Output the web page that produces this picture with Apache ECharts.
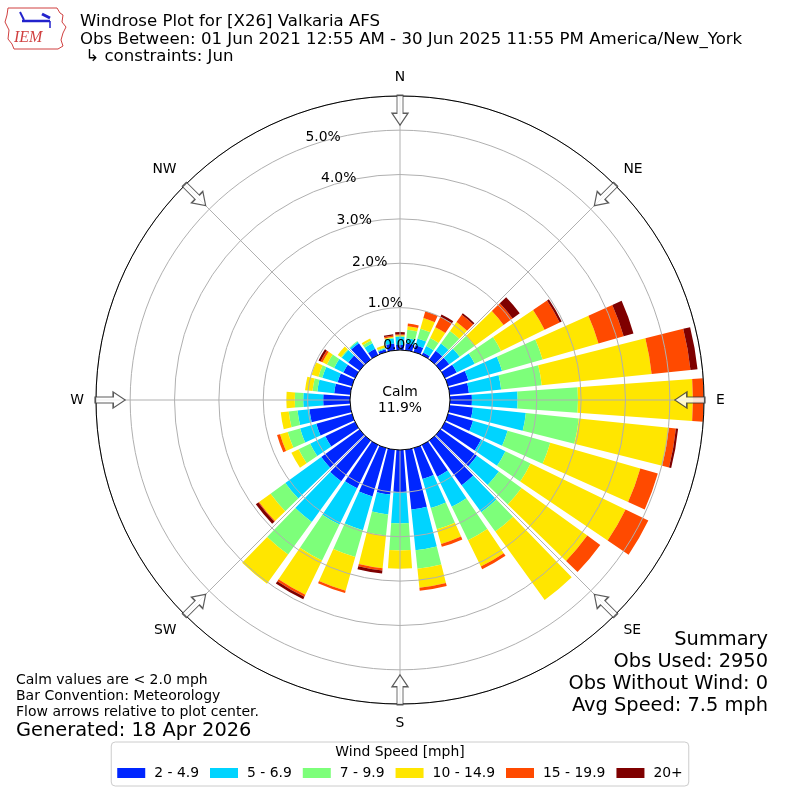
<!DOCTYPE html>
<html>
<head>
<meta charset="utf-8">
<script src="https://cdn.jsdelivr.net/npm/echarts@6/dist/echarts.min.js"></script>
<style>
html,body{margin:0;padding:0;background:#fff;}
#c{width:800px;height:800px;}
</style>
</head>
<body>
<div id="c"></div>
<script>
// ---- data ----
const directions = [0,10,20,30,40,50,60,70,80,90,100,110,120,130,140,150,160,170,180,190,200,210,220,230,240,250,260,270,280,290,300,310,320,330,340,350];
const speedBins = ['2 - 4.9','5 - 6.9','7 - 9.9','10 - 14.9','15 - 19.9','20+'];
const binColors = ['#0026ff','#00d4ff','#7dff7a','#ffe600','#ff4a00','#7f0000'];
// percent of observations per direction bin
const bin2to5   = [0.16,0.20,0.20,0.11,0.29,0.29,0.34,0.52,0.48,0.54,0.57,0.63,0.95,1.06,1.29,0.84,0.77,1.40,0.99,1.06,1.18,1.13,1.18,1.11,0.79,0.88,0.97,0.65,0.41,0.38,0.34,0.36,0.50,0.20,0.11,0.20];
const bin5to7   = [0.18,0.12,0.16,0.16,0.20,0.29,0.45,0.79,0.73,1.03,1.20,0.81,0.61,0.61,0.75,0.75,0.68,0.92,0.71,0.45,0.79,0.91,1.13,1.00,0.38,0.38,0.27,0.45,0.38,0.36,0.23,0.18,0.04,0.14,0.02,0.11];
const bin7to10  = [0.02,0.19,0.23,0.20,0.35,0.41,0.66,0.95,0.92,1.36,1.20,1.00,0.63,0.63,0.54,0.84,0.50,0.42,0.61,0.48,0.63,0.90,0.91,0.41,0.29,0.29,0.20,0.19,0.11,0.09,0.18,0.02,0.02,0.07,0.02,0.02];
const bin10to15 = [0.02,0.08,0.25,0.27,0.25,0.81,1.09,1.31,2.49,2.59,2.04,2.11,2.38,1.83,1.90,0.66,0.34,0.43,0.41,0.74,0.79,0.86,0.81,0.32,0.18,0.18,0.18,0.19,0.17,0.16,0.11,0.09,0.00,0.05,0.05,0.02];
const bin15to20 = [0.02,0.06,0.16,0.26,0.20,0.25,0.38,0.59,0.88,0.26,0.16,0.41,0.57,0.36,0.00,0.07,0.07,0.07,0.00,0.05,0.05,0.05,0.00,0.02,0.00,0.07,0.00,0.00,0.00,0.00,0.05,0.00,0.00,0.00,0.00,0.03];
const bin20plus = [0.05,0.00,0.00,0.06,0.04,0.20,0.05,0.23,0.16,0.00,0.05,0.00,0.00,0.00,0.00,0.00,0.00,0.00,0.00,0.07,0.00,0.06,0.00,0.07,0.00,0.00,0.00,0.00,0.00,0.00,0.05,0.00,0.00,0.00,0.00,0.03];
const binSeries = [bin2to5, bin5to7, bin7to10, bin10to15, bin15to20, bin20plus];
const calmPct = 11.9;
const compassNames  = ['N','NE','E','SE','S','SW','W','NW'];
const compassAngles = [0,45,90,135,180,225,270,315];
const radialMax = 5.77;

const titleLines = [
  'Windrose Plot for [X26] Valkaria AFS',
  'Obs Between: 01 Jun 2021 12:55 AM - 30 Jun 2025 11:55 PM America/New_York',
  ' \u21b3 constraints: Jun'
];
const noteLines = ['Calm values are < 2.0 mph','Bar Convention: Meteorology','Flow arrows relative to plot center.'];
const generatedText = 'Generated: 18 Apr 2026';
const summaryLines = ['Summary','Obs Used: 2950','Obs Without Wind: 0','Avg Speed: 7.5 mph'];

// ---- chart ----
const FONT = '"DejaVu Sans", sans-serif';
const chart = echarts.init(document.getElementById('c'));
const polarRadius = [48, 304];
const arrowRadius = 5.45;

const barSeries = speedBins.map((name, i) => ({
  name: name,
  type: 'bar',
  coordinateSystem: 'polar',
  polarIndex: 0,
  stack: 'wind',
  data: binSeries[i],
  barCategoryGap: '18%',
  itemStyle: { color: binColors[i] },
  silent: true,
  z: 2
}));

const option = {
  animation: false,
  backgroundColor: '#fff',
  textStyle: { fontFamily: FONT },
  tooltip: { show: false },
  title: [
    { text: titleLines.join('\n'), left: 80, top: 13, padding: 0,
      textStyle: { fontFamily: FONT, fontSize: 16.6, lineHeight: 17.5, fontWeight: 'normal', color: '#000' } },
    { text: 'Wind Speed [mph]', left: 'center', top: 745, padding: 0,
      textStyle: { fontFamily: FONT, fontSize: 13.9, fontWeight: 'normal', color: '#000' } },
    { text: noteLines.join('\n'), left: 16, top: 672, padding: 0,
      textStyle: { fontFamily: FONT, fontSize: 14, lineHeight: 16, fontWeight: 'normal', color: '#000' } },
    { text: generatedText, left: 16, top: 721, padding: 0,
      textStyle: { fontFamily: FONT, fontSize: 19.4, fontWeight: 'normal', color: '#000' } }
  ],
  legend: {
    data: speedBins,
    top: 742, left: 'center',
    orient: 'horizontal',
    icon: 'rect',
    itemWidth: 28, itemHeight: 10, itemGap: 11,
    padding: [24, 6, 6, 6],
    borderColor: '#cccccc', borderWidth: 1, borderRadius: 4,
    backgroundColor: '#fff',
    selectedMode: false,
    textStyle: { fontFamily: FONT, fontSize: 13.9, color: '#000', padding: [0, 0, 0, 4] }
  },
  polar: [
    { center: ['50%', '50%'], radius: polarRadius },
    { center: ['50%', '50%'], radius: polarRadius },
    { center: ['50%', '50%'], radius: polarRadius }
  ],
  angleAxis: [
    { polarIndex: 0, type: 'category', data: directions.map(String), startAngle: 95, clockwise: true,
      boundaryGap: true, axisLine: { show: false }, axisTick: { show: false }, axisLabel: { show: false },
      splitLine: { show: false } },
    { polarIndex: 1, type: 'value', min: 0, max: 360, interval: 45, startAngle: 90, clockwise: true, z: 10,
      axisLine: { show: true, lineStyle: { color: '#000', width: 1 } },
      axisTick: { show: false },
      axisLabel: { show: true, margin: 12, fontFamily: FONT, fontSize: 13.9, color: '#000',
        formatter: v => { const k = compassAngles.indexOf(v); return k >= 0 ? compassNames[k] : ''; } },
      splitLine: { show: true, lineStyle: { color: '#b0b0b0', width: 1 } } },
    { polarIndex: 2, type: 'value', min: 0, max: 360, startAngle: 110.5, clockwise: true, show: false }
  ],
  radiusAxis: [
    { polarIndex: 0, type: 'value', min: 0, max: radialMax, show: false },
    { polarIndex: 1, type: 'value', min: 0, max: radialMax, interval: 1, z: 10,
      axisLine: { show: false }, axisTick: { show: false }, axisLabel: { show: false },
      splitLine: { show: true, lineStyle: { color: '#b0b0b0', width: 1 } } },
    { polarIndex: 2, type: 'value', min: 0, max: radialMax, interval: 1, z: 12,
      axisLine: { show: false }, axisTick: { show: false }, splitLine: { show: false },
      axisLabel: { show: true, showMaxLabel: false, margin: 0, align: 'left', verticalAlign: 'bottom',
        padding: [0, 0, 3, 0], fontFamily: FONT, fontSize: 13.9, color: '#000',
        formatter: v => (Math.abs(v - Math.round(v)) < 1e-6 ? v.toFixed(1) + '%' : '') } }
  ],
  series: barSeries.concat([
    { type: 'pie', center: ['50%', '50%'], radius: [0, 50], z: 11, silent: true,
      label: { show: true, position: 'center', formatter: 'Calm\n' + calmPct.toFixed(1) + '%',
        fontFamily: FONT, fontSize: 13.9, lineHeight: 16, color: '#000' },
      labelLine: { show: false },
      emphasis: { disabled: true },
      itemStyle: { color: '#fff', borderColor: '#000', borderWidth: 1 },
      data: [{ value: 1, name: 'Calm' }] },
    { type: 'scatter', coordinateSystem: 'polar', polarIndex: 1, z: 13, silent: true,
      symbol: 'path://M8,0 L16,12 L11,12 L11,30 L5,30 L5,12 L0,12 Z',
      symbolSize: [16, 30],
      itemStyle: { color: '#fff', borderColor: '#333', borderWidth: 1.2 },
      data: compassAngles.map(a => ({ value: [arrowRadius, a], symbolRotate: 180 - a })) }
  ]),
  graphic: [
    { type: 'polygon', z: 20,
      shape: { points: [[8,8],[57,8],[60,13],[63,15],[62,22],[66,27],[63,33],[61,40],[63,46],[58,49],[14,49],[12,44],[8,39],[9,30],[5,22],[7,15]] },
      style: { fill: 'none', stroke: '#d04040', lineWidth: 1 } },
    { type: 'line', z: 20, shape: { x1: 22, y1: 21, x2: 50, y2: 21 }, style: { stroke: '#2222cc', lineWidth: 2.5 } },
    { type: 'line', z: 20, shape: { x1: 20, y1: 12, x2: 24, y2: 20 }, style: { stroke: '#2222cc', lineWidth: 2 } },
    { type: 'line', z: 20, shape: { x1: 42, y1: 14, x2: 50, y2: 18 }, style: { stroke: '#2222cc', lineWidth: 3 } },
    { type: 'line', z: 20, shape: { x1: 50, y1: 21, x2: 50, y2: 28 }, style: { stroke: '#2222cc', lineWidth: 1.5 } },
    { type: 'text', z: 20, left: 14, top: 30,
      style: { text: 'IEM', font: 'italic 16px "Liberation Serif", serif', fill: '#d04040' } },
    { type: 'text', z: 20, right: 32, top: 629,
      style: { text: summaryLines.join('\n'), textAlign: 'right', font: '19.4px "DejaVu Sans", sans-serif',
        lineHeight: 22, fill: '#000' } }
  ]
};
chart.setOption(option);
</script>
</body>
</html>
